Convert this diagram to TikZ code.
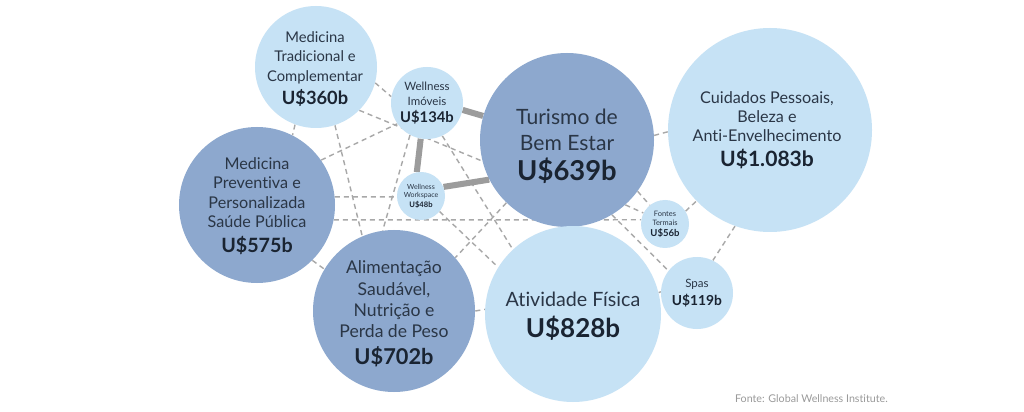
\documentclass[tikz,border=0pt]{standalone}
\usepackage{fontspec}
\setmainfont{Lato}[Ligatures={NoCommon,NoDiscretionary}]
\usetikzlibrary{backgrounds}
\definecolor{lightb}{HTML}{C6E2F5}
\definecolor{darkb}{HTML}{8DA8CE}
\definecolor{txt}{HTML}{2A3646}
\definecolor{valtxt}{HTML}{1A2432}
\definecolor{dashc}{HTML}{A8A8A8}
\definecolor{thickc}{HTML}{9C9C9C}
\definecolor{srcc}{HTML}{9A9A9A}
\newcommand{\fs}[2]{\fontsize{#1}{#2}\selectfont}
\newcommand{\valu}[2]{{\fs{#1}{#1}\bfseries\color{valtxt}#2}}
\begin{document}
\begin{tikzpicture}[x=0.025cm,y=-0.025cm,
  lb/.style={circle, fill=lightb, inner sep=0pt, minimum size={2*#1*0.025cm}},
  db/.style={circle, fill=darkb, inner sep=0pt, minimum size={2*#1*0.025cm}},
  lbl/.style={align=center, text=txt, inner sep=0pt},
  web/.style={draw=dashc, line width=1pt, dash pattern=on 3.6pt off 2.8pt},
  link/.style={draw=thickc, line width=4.3pt}]
\useasboundingbox (0,0) rectangle (1024,412);
% circles
\node[lb=61]  (MT) at (316,67) {};
\node[lb=36]  (WI) at (427,103) {};
\node[lb=24]  (WW) at (421,196) {};
\node[db=87]  (TB) at (567,140) {};
\node[lb=102] (CP) at (770,130) {};
\node[db=78]  (MP) at (257,205) {};
\node[db=81]  (AS) at (394,311) {};
\node[lb=88]  (AF) at (573,314) {};
\node[lb=24]  (FT) at (665,224) {};
\node[lb=36]  (SP) at (697,293) {};
% connectors behind
\begin{scope}[on background layer]
\fill[white] (0,0) rectangle (1024,412);
\draw[web] (MT.-15) -- (WI.170);
\draw[web] (MT.-45) -- (TB.194);
\draw[web] (MT.-72) -- (AS.113);
\draw[web] (MT.-110) -- (MP.63);
\draw[web] (MP.35) -- (WI.215);
\draw[web] (WI.-118) -- (AS.98);
\draw[web] (WI.-65) -- (AF.133);
\draw[web] (MP.6) -- (WW.182);
\draw[web] (MP.-11) -- (FT.170);
\draw[web] (WW.-40) -- (AF.148);
\draw[web] (TB.-134) -- (AS.41);
\draw[web] (TB.-36) -- (FT.129);
\draw[web] (TB.-48) -- (FT.153);
\draw[web] (TB.-59) -- (SP.142);
\draw[web] (TB.3) -- (CP.181);
\draw[web] (AF.14) -- (SP.178);
\draw[web] (FT.32) -- (CP.224);
\draw[web] (CP.-110) -- (SP.64);
\draw[web] (MP.-45) -- (AS.149);
\draw[web] (AS.0) -- (AF.177);
\draw[link] (WI.-11) -- (TB.164);
\draw[link] (WI.-100) -- (WW.100);
\draw[link] (WW.22) -- (TB.207);
\end{scope}
% labels
\node[lbl, font=\fs{10.5}{13.8}] (MTt) at (315,69) {Medicina\\Tradicional e\\Complementar\\[3pt]\valu{13}{U\$360b}};
\node[lbl, font=\fs{8.2}{10.5}] (WIt) at (WI) {Wellness\\Imóveis\\[2pt]\valu{10.5}{U\$134b}};
\node[lbl, font=\fs{5}{5.8}] (WWt) at (WW) {Wellness\\Workspace\\[1pt]\valu{5.4}{U\$48b}};
\node[lbl, font=\fs{15}{18.4}] (TBt) at (567,146) {Turismo de\\Bem Estar\\[3pt]\valu{19.5}{U\$639b}};
\node[lbl, font=\fs{11.5}{13.6}] (CPt) at (767,130) {Cuidados Pessoais,\\Beleza e\\Anti-Envelhecimento\\[4pt]\valu{15}{U\$1.083b}};
\node[lbl, font=\fs{11.5}{13.8}] (MPt) at (257,206) {Medicina\\Preventiva e\\Personalizada\\Saúde Pública\\[4pt]\valu{14}{U\$575b}};
\node[lbl, font=\fs{12.5}{15.2}] (ASt) at (394,314) {Alimentação\\Saudável,\\Nutrição e\\Perda de Peso\\[4pt]\valu{15.5}{U\$702b}};
\node[lbl, font=\fs{14}{18}] (AFt) at (573,316) {Atividade Física\\[4pt]\valu{18.5}{U\$828b}};
\node[lbl, font=\fs{5.3}{6.4}] (FTt) at (FT) {Fontes\\Termais\\[1.5pt]\valu{6.8}{U\$56b}};
\node[lbl, font=\fs{8.2}{12}] (SPt) at (SP) {Spas\\[1pt]\valu{9.8}{U\$119b}};
\node[text=srcc, inner sep=0pt, anchor=east, font=\fs{7.6}{8}] (src) at (888,399) {Fonte: Global Wellness Institute.};
\end{tikzpicture}
\end{document}
